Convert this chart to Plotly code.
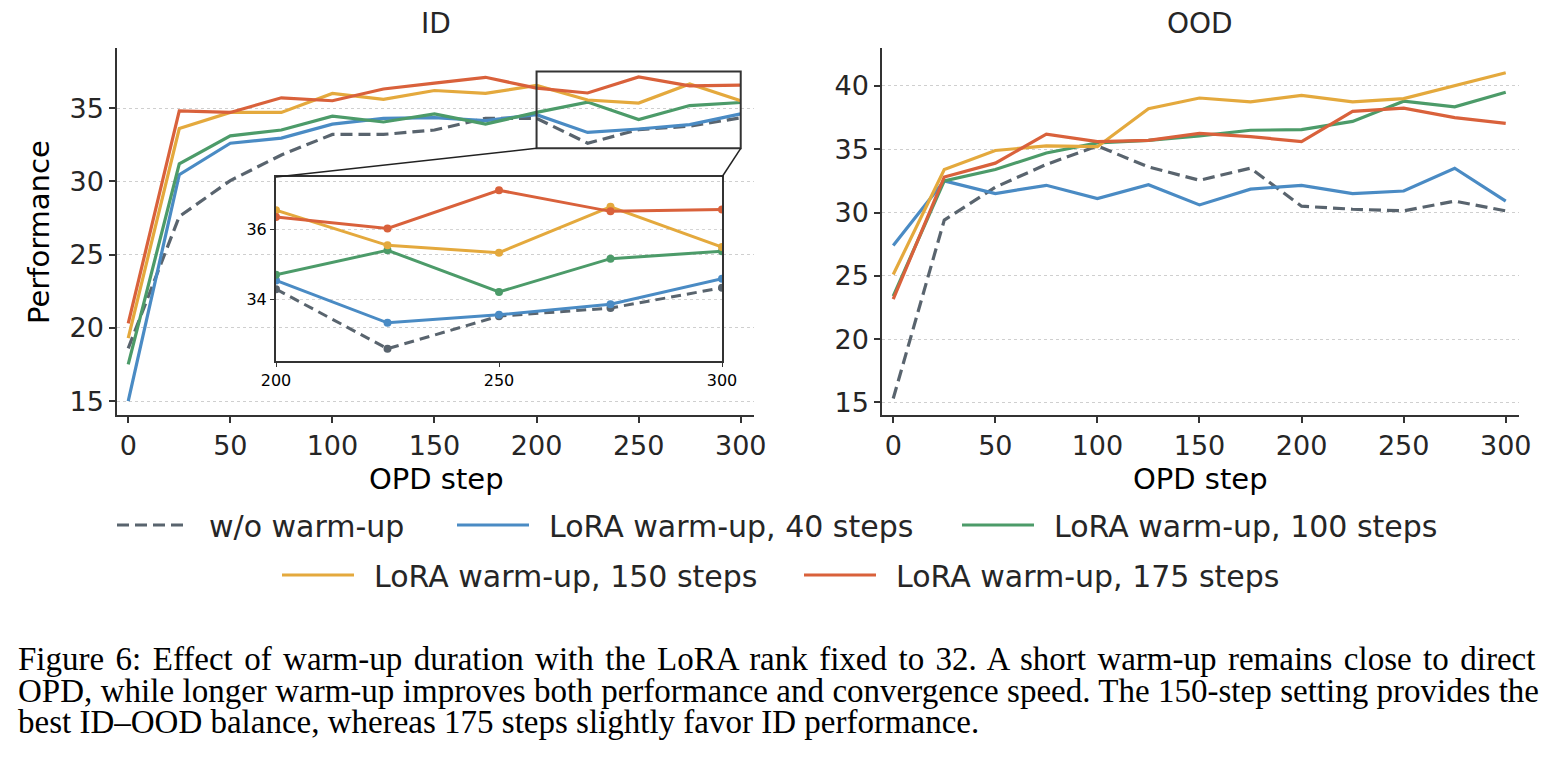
import plotly.graph_objects as go

W, H = 1538, 746   # page is 1554x762 with the 8px body margin around it
OFF = 8

steps = [0, 25, 50, 75, 100, 125, 150, 175, 200, 225, 250, 275, 300]

names = ['w/o warm-up', 'LoRA warm-up, 40 steps', 'LoRA warm-up, 100 steps',
         'LoRA warm-up, 150 steps', 'LoRA warm-up, 175 steps']
colors = ['#59646e', '#4a8bc4', '#4c9b69', '#e4a93d', '#d9613b']

# ID performance
id_base = [18.6, 27.6, 30.05, 31.8, 33.2, 33.2, 33.5, 34.3, 34.3, 32.6, 33.53, 33.76, 34.34]
id_w40 = [15.0, 30.45, 32.6, 32.95, 33.9, 34.3, 34.35, 34.15, 34.55, 33.34, 33.57, 33.87, 34.6]
id_w100 = [17.5, 31.2, 33.1, 33.5, 34.45, 34.05, 34.6, 33.9, 34.71, 35.41, 34.22, 35.17, 35.38]
id_w150 = [19.3, 33.6, 34.7, 34.7, 36.0, 35.6, 36.2, 36.0, 36.55, 35.55, 35.34, 36.65, 35.5]
id_w175 = [20.3, 34.8, 34.7, 35.7, 35.5, 36.3, 36.7, 37.1, 36.36, 36.03, 37.12, 36.52, 36.57]

# OOD performance
ood_base = [15.3, 29.4, 32.0, 33.8, 35.26, 33.6, 32.55, 33.5, 30.5, 30.26, 30.13, 30.9, 30.13]
ood_w40 = [27.4, 32.5, 31.5, 32.15, 31.1, 32.2, 30.6, 31.85, 32.15, 31.5, 31.7, 33.5, 30.9]
ood_w100 = [23.4, 32.5, 33.4, 34.7, 35.5, 35.7, 36.05, 36.5, 36.55, 37.2, 38.8, 38.35, 39.5]
ood_w150 = [25.1, 33.4, 34.9, 35.26, 35.2, 38.2, 39.05, 38.74, 39.26, 38.74, 39.0, 40.05, 41.05]
ood_w175 = [23.15, 32.8, 33.9, 36.2, 35.6, 35.7, 36.25, 36.0, 35.6, 38.0, 38.25, 37.5, 37.05]

id_series = [id_base, id_w40, id_w100, id_w150, id_w175]
ood_series = [ood_base, ood_w40, ood_w100, ood_w150, ood_w175]

inset_from = 8  # index of step 200

caption = [
    'Figure 6: Effect of warm-up duration with the LoRA rank fixed to 32. A short warm-up remains close to direct',
    'OPD, while longer warm-up improves both performance and convergence speed. The 150-step setting provides the',
    'best ID\u2013OOD balance, whereas 175 steps slightly favor ID performance.',
]
caption_wordspacing = [3.2, 0.2, 0]  # rough justification of the first two lines

FONT = 'DejaVu Sans'
INK = '#262626'


def px_x(p):
    return (p - OFF) / W


def px_y(p):
    return 1 - (p - OFF) / H


# legend slots (left of line sample, row centre) in page pixels
leg_pos = [(118, 525), (458, 525), (963, 525), (283, 575), (805, 575)]
leg_ids = ['legend', 'legend2', 'legend3', 'legend4', 'legend5']

fig = go.Figure()

for i in range(5):
    dash = '12px,6px' if i == 0 else 'solid'
    fig.add_trace(go.Scatter(
        x=steps, y=id_series[i], name='\u2002' + names[i], mode='lines',
        line=dict(color=colors[i], width=3.2, dash=dash),
        xaxis='x', yaxis='y', legend=leg_ids[i],
    ))
    fig.add_trace(go.Scatter(
        x=steps, y=ood_series[i], name=names[i], mode='lines', showlegend=False,
        line=dict(color=colors[i], width=3.2, dash=dash),
        xaxis='x2', yaxis='y2',
    ))
    fig.add_trace(go.Scatter(
        x=steps[inset_from:], y=id_series[i][inset_from:], name=names[i],
        mode='lines+markers', showlegend=False,
        line=dict(color=colors[i], width=3, dash='10px,6px' if i == 0 else 'solid'),
        marker=dict(color=colors[i], size=8),
        xaxis='x3', yaxis='y3',
    ))

dom_l = [px_x(117), px_x(754)]
dom_r = [px_x(882), px_x(1519)]
dom_y = [px_y(415), px_y(48)]
ins_x = [px_x(276), px_x(722)]
ins_y = [px_y(361), px_y(177)]

xr = [-5.5, 306.5]
yr_id = [14.05, 39.1]
yr_ood = [14.0, 43.0]
yr_ins = [32.25, 37.5]

axis_common = dict(
    showline=True, linecolor='#333333', linewidth=1.5,
    ticks='outside', ticklen=6, tickwidth=1.5, tickcolor='#333333',
    zeroline=False, automargin=False, tickfont=dict(family=FONT, size=27, color=INK),
)
inset_common = dict(
    showline=True, mirror=True, linecolor='#333333', linewidth=2,
    ticks='outside', ticklen=4, tickcolor='#333333', zeroline=False, automargin=False,
    tickfont=dict(family=FONT, size=16, color='black'),
)

layout = dict(
    template='none',
    width=W, height=H,
    margin=dict(l=0, r=0, t=0, b=0, pad=0),
    paper_bgcolor='white', plot_bgcolor='rgba(0,0,0,0)',
    font=dict(family=FONT, color=INK),
    xaxis=dict(domain=dom_l, anchor='y', range=xr, tickvals=[0, 50, 100, 150, 200, 250, 300],
               showgrid=False, **axis_common),
    yaxis=dict(domain=dom_y, anchor='x', range=yr_id, tickvals=[15, 20, 25, 30, 35],
               showgrid=True, gridcolor='#cfcfcf', griddash='dot', gridwidth=1, **axis_common),
    xaxis2=dict(domain=dom_r, anchor='y2', range=xr, tickvals=[0, 50, 100, 150, 200, 250, 300],
                showgrid=False, **axis_common),
    yaxis2=dict(domain=dom_y, anchor='x2', range=yr_ood, tickvals=[15, 20, 25, 30, 35, 40],
                showgrid=True, gridcolor='#cfcfcf', griddash='dot', gridwidth=1, **axis_common),
    xaxis3=dict(domain=ins_x, anchor='y3', range=[200, 300], tickvals=[200, 250, 300],
                showgrid=False, **inset_common),
    yaxis3=dict(domain=ins_y, anchor='x3', range=yr_ins, tickvals=[34, 36],
                showgrid=True, gridcolor='#d5d5d5', griddash='dot', gridwidth=1, **inset_common),
)
for lid, (lx, ly) in zip(leg_ids, leg_pos):
    layout[lid] = dict(orientation='h', x=px_x(lx - 6), xanchor='left', y=px_y(ly), yanchor='middle',
                       font=dict(family=FONT, size=30, color=INK), itemwidth=72,
                       bgcolor='rgba(0,0,0,0)', borderwidth=0)
fig.update_layout(**layout)

# zoom indicator box on the ID panel and connector lines to the inset
fig.add_shape(type='rect', xref='x', yref='y', x0=200, x1=300, y0=yr_ins[0], y1=yr_ins[1],
              line=dict(color='#333333', width=2))


def data_to_paper(xv, yv, dx, dy, rx, ry):
    px = dx[0] + (xv - rx[0]) / (rx[1] - rx[0]) * (dx[1] - dx[0])
    py = dy[0] + (yv - ry[0]) / (ry[1] - ry[0]) * (dy[1] - dy[0])
    return px, py


bl = data_to_paper(200, yr_ins[0], dom_l, dom_y, xr, yr_id)
br = data_to_paper(300, yr_ins[0], dom_l, dom_y, xr, yr_id)
fig.add_shape(type='line', xref='paper', yref='paper', x0=bl[0], y0=bl[1], x1=ins_x[0], y1=ins_y[1],
              line=dict(color='#222222', width=1.5))
fig.add_shape(type='line', xref='paper', yref='paper', x0=br[0], y0=br[1], x1=ins_x[1], y1=ins_y[1],
              line=dict(color='#222222', width=1.5))

# panel titles and axis labels
for txt, cx in [('ID', 436), ('OOD', 1200)]:
    fig.add_annotation(text=txt, x=px_x(cx), y=px_y(23), xref='paper', yref='paper',
                       showarrow=False, xanchor='center', yanchor='middle',
                       font=dict(family=FONT, size=28, color=INK))
    fig.add_annotation(text='OPD step', x=px_x(cx), y=px_y(479), xref='paper', yref='paper',
                       showarrow=False, xanchor='center', yanchor='middle',
                       font=dict(family=FONT, size=29, color='black'))

fig.add_annotation(text='Performance', x=px_x(39), y=px_y(232), xref='paper', yref='paper',
                   showarrow=False, textangle=-90, xanchor='center', yanchor='middle',
                   font=dict(family=FONT, size=29, color='black'))

# caption
for k, line in enumerate(caption):
    txt = '<span style="word-spacing:%.1fpx">%s</span>' % (caption_wordspacing[k], line)
    fig.add_annotation(text=txt, x=px_x(17), y=px_y(659 + 31.6 * k), xref='paper', yref='paper',
                       showarrow=False, xanchor='left', yanchor='middle', borderpad=0,
                       font=dict(family='Liberation Serif', size=33, color='black'))

fig.write_html("out.html")
